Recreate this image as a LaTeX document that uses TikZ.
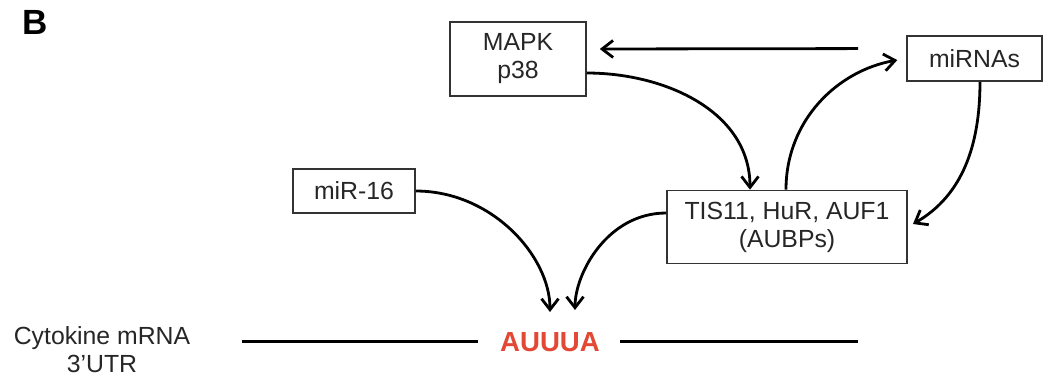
\documentclass[tikz,border=0pt]{standalone}
\usepackage{fontspec}
\setmainfont{Liberation Sans}
\usepackage{tikz}
\usetikzlibrary{arrows.meta,positioning}
\definecolor{aured}{RGB}{226,72,52}

\begin{document}
\begin{tikzpicture}[
    x=0.5pt, y=-0.5pt,
    box/.style={draw=black!80, line width=0.8pt, align=center, inner sep=0pt,
                text=black!85, font=\fontsize{12.4}{14}\selectfont},
    arr/.style={line width=1.4pt, -{Straight Barb[length=5.5pt,width=8.5pt,line width=1.4pt]}},
    utr/.style={line width=1.5pt}
]
\useasboundingbox (0,0) rectangle (1045,377);

\node[font=\bfseries\fontsize{17.5}{20}\selectfont, inner sep=0pt] (lbl) at (35,22) {B};

\node[box, minimum width=68pt, minimum height=37pt] (mapk) at (518,59) {MAPK\\p38};
\node[box, minimum width=67.5pt, minimum height=22.5pt] (mirnas) at (974.5,58.5) {miRNAs};
\node[box, minimum width=120pt, minimum height=36.5pt] (aubp) at (787,227) {TIS11, HuR, AUF1\\(AUBPs)};
\node[box, minimum width=61pt, minimum height=22pt] (mir16) at (354,191) {miR-16};

\node[font=\bfseries\fontsize{13.8}{16}\selectfont, text=aured, inner sep=0pt] (au) at (550,342) {AUUUA};
\node[align=center, inner sep=0pt, text=black!85, font=\fontsize{12.4}{14}\selectfont]
    (utrtxt) at (102,350) {Cytokine mRNA\\3'UTR};

% 3'UTR line
\coordinate (utrL) at (242,341);
\coordinate (utrR) at (858,341);
\draw[utr, shorten >=11pt] (utrL) -- (au.west |- utrL);
\draw[utr, shorten <=10pt] (au.east |- utrR) -- (utrR);

% regulation
\draw[arr, shorten <=24pt, shorten >=6.5pt] ([yshift=5pt]mirnas.west) -- ([yshift=5pt]mapk.east);
\draw[arr] ([yshift=-7pt]mapk.east) to[out=0, in=90] ([xshift=-18.5pt]aubp.north);
\draw[arr, shorten >=4.5pt] ([xshift=-0.5pt]aubp.north) to[out=90, in=190] (mirnas.west);
\draw[arr, shorten >=3pt] ([xshift=2.75pt]mirnas.south) to[out=-90, in=30] (aubp.east);
\draw[arr, shorten >=10pt] (mir16.east) to[out=0, in=90] (au.north);
\draw[arr, shorten >=11pt] ([yshift=7pt]aubp.west) to[out=180, in=90] ([xshift=12.5pt]au.north);
\end{tikzpicture}
\end{document}
